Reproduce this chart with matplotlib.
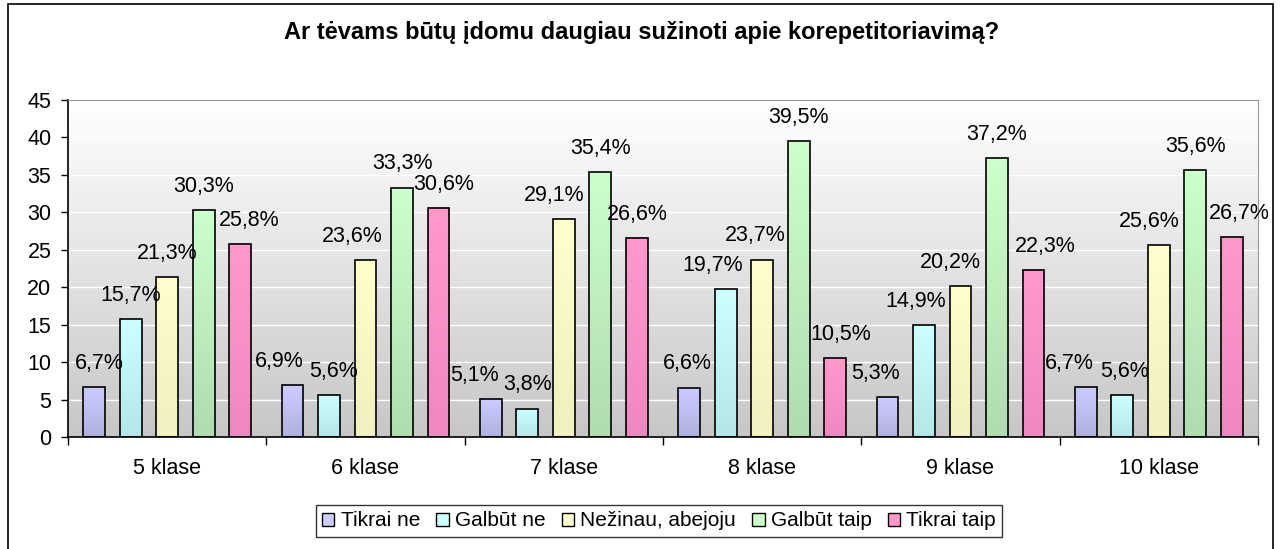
import matplotlib.pyplot as plt
import numpy as np
from matplotlib.patches import Rectangle, Patch

plt.rcParams['font.family'] = ['Liberation Sans', 'DejaVu Sans']

klases = ['5 klase', '6 klase', '7 klase', '8 klase', '9 klase', '10 klase']
series = ['Tikrai ne', 'Galbūt ne', 'Nežinau, abejoju', 'Galbūt taip', 'Tikrai taip']
tikrai_ne = [6.7, 6.9, 5.1, 6.6, 5.3, 6.7]
galbut_ne = [15.7, 5.6, 3.8, 19.7, 14.9, 5.6]
nezinau = [21.3, 23.6, 29.1, 23.7, 20.2, 25.6]
galbut_taip = [30.3, 33.3, 35.4, 39.5, 37.2, 35.6]
tikrai_taip = [25.8, 30.6, 26.6, 10.5, 22.3, 26.7]
values = [tikrai_ne, galbut_ne, nezinau, galbut_taip, tikrai_taip]

# sideways nudge of each value label, in pixels (as placed in the original)
label_dx = [[5, -13, -16, -2, -12, -17],
            [0, 5, 0, -13, -8, 2],
            [0, -13, -10, -7, -10, -10],
            [0, 0, 0, 0, 0, 0],
            [9, 5, 0, 6, 12, 7]]

# top / bottom colours of each bar gradient
colors_top = ['#ccccff', '#ccffff', '#ffffcc', '#ccffcc', '#ff99cc']
colors_bot = ['#b0b0e0', '#b4e8e8', '#f0f0c0', '#b0dcb0', '#ee88c0']

fig = plt.figure(figsize=(12.84, 5.49), dpi=100)
ax = fig.add_axes([68/1284, 1-437/549, (1258-68)/1284, (437-100)/549])

# grey gradient background
grad = np.linspace(1, 0, 256).reshape(256, 1, 1)
bg = np.ones((256, 1, 3)) * (0.78 + 0.22 * grad)
ax.imshow(bg, extent=[-0.5, 5.5, 0, 45], aspect='auto', zorder=0)

ax.set_xlim(-0.5, 5.5)
ax.set_ylim(0, 45)
for y in range(5, 45, 5):
    ax.axhline(y, color='white', lw=1, zorder=1)

x = np.arange(len(klases))
pitch = 0.184
width = 0.11
for i, vals in enumerate(values):
    pos = x + (i - 2) * pitch
    bars = ax.bar(pos, vals, width, facecolor='none', edgecolor='black', lw=1.2, zorder=3)
    c1 = np.array(plt.matplotlib.colors.to_rgb(colors_top[i]))
    c2 = np.array(plt.matplotlib.colors.to_rgb(colors_bot[i]))
    t = np.linspace(0, 1, 64).reshape(-1, 1, 1)
    img = c1 * (1 - t) + c2 * t
    for j, (b, v) in enumerate(zip(bars, vals)):
        ax.imshow(img, extent=[b.get_x(), b.get_x() + b.get_width(), 0, b.get_height()],
                  aspect='auto', zorder=2)
        ax.annotate(f'{v:.1f}%'.replace('.', ','), (b.get_x() + b.get_width() / 2, v),
                    xytext=(label_dx[i][j] * 0.72, 9.5), textcoords='offset points',
                    ha='center', va='bottom', fontsize=15.5, zorder=4)

ax.set_yticks(range(0, 50, 5))
ax.tick_params(axis='y', labelsize=15.5, length=5, width=1, pad=7)
ax.set_xticks(np.arange(-0.5, 6, 1))
ax.set_xticklabels([])
ax.set_xticks(x, minor=True)
ax.set_xticklabels(klases, minor=True, fontsize=15.5)
ax.tick_params(axis='x', which='major', length=6, width=1)
ax.tick_params(axis='x', which='minor', length=0, pad=15)

ax.spines['top'].set_color('#999999')
ax.spines['right'].set_color('#999999')
ax.spines['left'].set_linewidth(1.2)
ax.spines['bottom'].set_linewidth(1.2)

fig.text(0.5, 1-33/549, 'Ar tėvams būtų įdomu daugiau sužinoti apie korepetitoriavimą?',
         ha='center', va='center', fontsize=17, fontweight='bold')

handles = [Patch(facecolor=colors_top[i], edgecolor='black', lw=1) for i in range(5)]
leg = fig.legend(handles, series, loc='center', bbox_to_anchor=(659/1284, 1-521/549),
                 ncol=5, fontsize=15, frameon=True, fancybox=False, edgecolor='black',
                 handlelength=0.6, handleheight=0.6, handletextpad=0.3, columnspacing=0.77,
                 borderpad=0.3, borderaxespad=0)
leg.get_frame().set_linewidth(1)

fig.add_artist(Rectangle((8/1284, -0.05), (1273-8)/1284, 1.05-4/549, transform=fig.transFigure,
                         fill=False, edgecolor='black', lw=1.2, clip_on=False))

fig.savefig('out.png', dpi=100)
